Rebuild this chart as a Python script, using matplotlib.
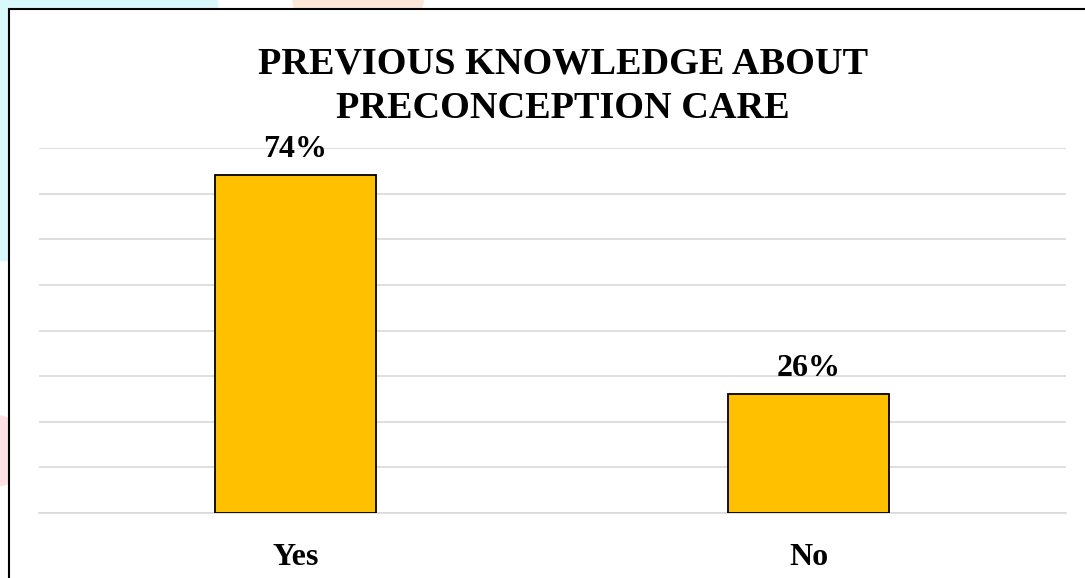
import matplotlib
matplotlib.use("Agg")
import matplotlib.pyplot as plt
from matplotlib.patches import Rectangle, Ellipse

categorias = ["Yes", "No"]
valores = [74, 26]
rotulos = ["74%", "26%"]
titulo = "PREVIOUS KNOWLEDGE ABOUT\nPRECONCEPTION CARE"

plt.rcParams['font.family'] = ['Liberation Serif', 'DejaVu Serif']
plt.rcParams['font.weight'] = 'bold'

fig = plt.figure(figsize=(10.85, 5.78), dpi=100)

# marca d'agua suave atras do quadro
fig.patches.append(Rectangle((0, 0.55), 0.2, 0.45, transform=fig.transFigure,
                             color='#d8f8fb', zorder=-3))
fig.patches.append(Ellipse((0.33, 1.0), 0.12, 0.12, transform=fig.transFigure,
                           color='#fde7d6', zorder=-3))
fig.patches.append(Ellipse((0.0, 0.22), 0.04, 0.12, transform=fig.transFigure,
                           color='#fde0e3', zorder=-3))
# quadro do grafico (cortado a direita e embaixo)
fig.patches.append(Rectangle((9/1085, -0.05), 1.1, 1 - 9/578 + 0.05,
                             transform=fig.transFigure, facecolor='white',
                             edgecolor='black', linewidth=1.5, zorder=-2))

ax = fig.add_axes([38.5/1085, 1 - 513/578, 1027/1085, (513 - 148)/578])
ax.set_facecolor('none')

barras = ax.bar(categorias, valores, width=0.314, color='#FFC000',
                edgecolor='black', linewidth=1.3, zorder=3)
ax.set_xlim(-0.5, 1.5)
ax.set_ylim(0, 80)
ax.set_yticks(range(0, 81, 10))
ax.yaxis.grid(True, color='#d9d9d9', linewidth=1.2, zorder=0)
ax.tick_params(axis='y', left=False, labelleft=False)
ax.tick_params(axis='x', bottom=False, pad=18, labelsize=23)
for s in ['top', 'right', 'left']:
    ax.spines[s].set_visible(False)
ax.spines['bottom'].set_color('#d9d9d9')
ax.spines['bottom'].set_linewidth(1.2)

for b, r in zip(barras, rotulos):
    ax.annotate(r, (b.get_x() + b.get_width() / 2, b.get_height()),
                xytext=(0, 8), textcoords='offset points',
                ha='center', va='bottom', fontsize=23, fontweight='bold')

fig.text(563/1085, 1 - 118/578, titulo, ha='center', va='baseline',
         fontsize=27.5, fontweight='bold', linespacing=1.35)

plt.savefig("out.png", dpi=100)
plt.close()
